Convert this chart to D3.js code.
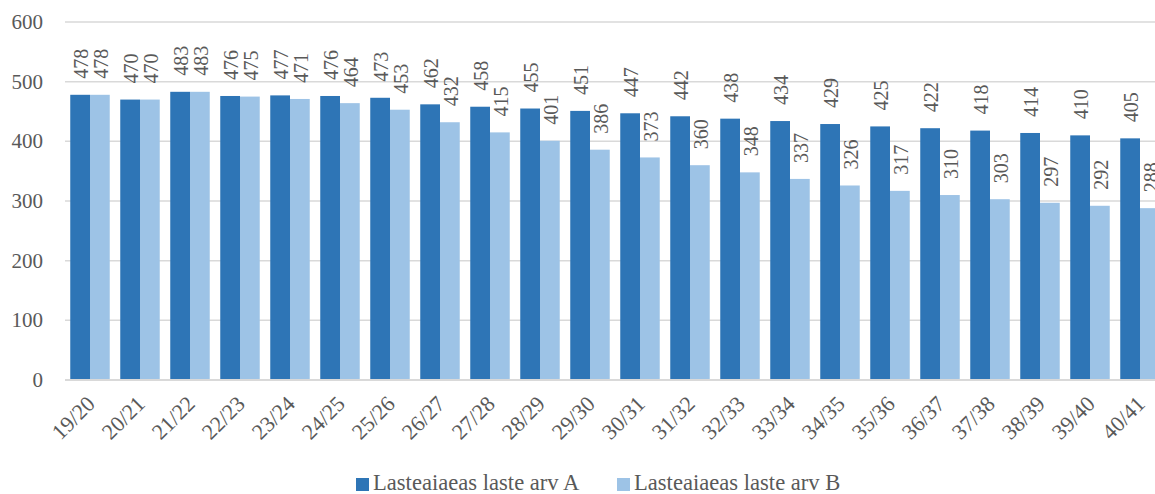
<!DOCTYPE html>
<html>
<head>
<meta charset="utf-8">
<script src="https://cdn.jsdelivr.net/npm/d3@7"></script>
<style>
  html, body { margin: 0; padding: 0; background: #fff; overflow: hidden; }
  svg { display: block; }
</style>
</head>
<body>
<svg id="chart" width="1155" height="494"></svg>
<script>
const categories = ["19/20","20/21","21/22","22/23","23/24","24/25","25/26","26/27","27/28","28/29","29/30","30/31","31/32","32/33","33/34","34/35","35/36","36/37","37/38","38/39","39/40","40/41"];
const seriesA = [478,470,483,476,477,476,473,462,458,455,451,447,442,438,434,429,425,422,418,414,410,405];
const seriesB = [478,470,483,475,471,464,453,432,415,401,386,373,360,348,337,326,317,310,303,297,292,288];
const seriesNames = ["Lasteaiaeas laste arv A", "Lasteaiaeas laste arv B"];
const yTicks = [0,100,200,300,400,500,600];
const colors = ["#2E75B6", "#9DC3E6"];

const FONT = "'Liberation Serif', 'DejaVu Serif', serif";
const TXT = "#595959";

const svg = d3.select("#chart");
const plotLeft = 65, plotRight = 1165, plotTop = 22, plotBottom = 380;

const x0 = d3.scaleBand().domain(categories).range([plotLeft, plotRight]).paddingInner(0.21).paddingOuter(0.105);
const x1 = d3.scaleBand().domain([0,1]).range([0, x0.bandwidth()]);
const y = d3.scaleLinear().domain([0, 600]).range([plotBottom, plotTop]);

// gridlines
svg.append("g").selectAll("line").data(yTicks.filter(t => t > 0)).join("line")
  .attr("x1", plotLeft).attr("x2", 1155)
  .attr("y1", d => y(d)).attr("y2", d => y(d))
  .attr("stroke", "#d9d9d9").attr("stroke-width", 1.5);

// y tick labels
svg.append("g").selectAll("text").data(yTicks).join("text")
  .attr("x", 43).attr("y", d => y(d))
  .attr("text-anchor", "end").attr("dominant-baseline", "central")
  .attr("font-family", FONT).attr("fill", TXT)
  .attr("font-size", 21)
  .text(d => d);

const data = categories.map((c, i) => ({cat: c, vals: [seriesA[i], seriesB[i]]}));

const groups = svg.append("g").selectAll("g").data(data).join("g")
  .attr("transform", d => `translate(${x0(d.cat)},0)`);

groups.selectAll("rect").data(d => d.vals.map((v, k) => ({v, k}))).join("rect")
  .attr("x", d => x1(d.k)).attr("width", x1.bandwidth())
  .attr("y", d => y(d.v)).attr("height", d => y(0) - y(d.v))
  .attr("fill", d => colors[d.k]);

groups.selectAll("text.val").data(d => d.vals.map((v, k) => ({v, k}))).join("text")
  .attr("class", "val")
  .attr("transform", d => `translate(${x1(d.k) + x1.bandwidth() / 2 + 1},${y(d.v) - 16}) rotate(-90)`)
  .attr("text-anchor", "start").attr("dominant-baseline", "central")
  .attr("font-family", FONT).attr("fill", TXT)
  .attr("font-size", 20)
  .text(d => d.v);

// baseline axis
svg.append("line").attr("x1", plotLeft).attr("x2", 1155)
  .attr("y1", y(0)).attr("y2", y(0))
  .attr("stroke", "#d9d9d9").attr("stroke-width", 2);

// x labels
svg.append("g").selectAll("text").data(categories).join("text")
  .attr("transform", d => `translate(${x0(d) + x0.bandwidth() / 2 + 1},${400}) rotate(-45)`)
  .attr("text-anchor", "end").attr("dominant-baseline", "central")
  .attr("font-family", FONT).attr("fill", TXT)
  .attr("font-size", 22)
  .text(d => d);

// legend
const legendX = [356, 617];
const lg = svg.append("g").selectAll("g").data(seriesNames).join("g")
  .attr("transform", (d, i) => `translate(${legendX[i]},0)`);
lg.append("rect").attr("x", 0).attr("y", 478).attr("width", 13).attr("height", 13)
  .attr("fill", (d, i) => colors[i]);
lg.append("text").attr("x", 17).attr("y", 490)
  .attr("font-family", FONT).attr("fill", TXT)
  .attr("font-size", 22.6).text(d => d);
</script>
</body>
</html>
